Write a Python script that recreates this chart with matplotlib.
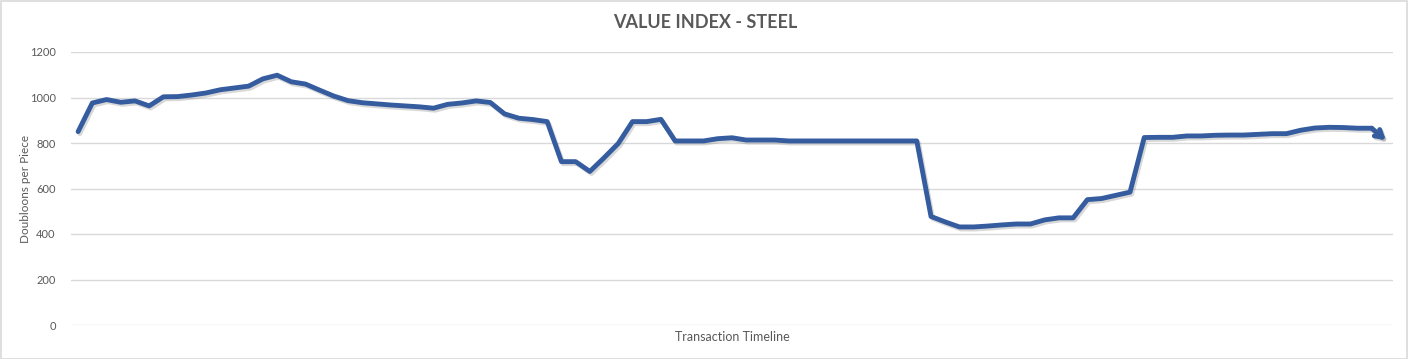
import numpy as np
import matplotlib.pyplot as plt
import matplotlib.patheffects as pe

# value per transaction
steel_value = [850, 976, 991, 979, 985, 963, 1003, 1004, 1011, 1020,
               1034, 1042, 1050, 1082, 1098, 1069, 1059, 1032, 1006, 986,
               977, 972, 967, 963, 959, 953, 970, 976, 985, 978,
               928, 909, 903, 894, 718, 718, 675, 735, 798, 894,
               894, 904, 809, 809, 809, 819, 823, 813, 813, 813,
               809, 809, 809, 809, 809, 809, 809, 809, 809, 809,
               477, 453, 431, 431, 435, 440, 444, 444, 462, 471,
               471, 551, 556, 570, 584, 824, 825, 825, 831, 831,
               834, 835, 835, 838, 841, 841, 856, 866, 869, 868,
               865, 865, 812]
txn = np.arange(len(steel_value))
y_ticks = [0, 200, 400, 600, 800, 1000, 1200]

title = "VALUE INDEX - STEEL"
x_label = "Transaction Timeline"
y_label = "Doubloons per Piece"

plt.rcParams['font.family'] = ['Lato', 'DejaVu Sans']
txt_col = '#595959'
line_col = '#355C9F'

fig = plt.figure(figsize=(14.08, 3.59), dpi=100)
ax = fig.add_axes([71/1408, 1 - 325/359, 1322/1408, 273/359])

shadow = [pe.SimpleLineShadow(offset=(1.2, -1.5), shadow_color='#808080', alpha=0.3),
          pe.Normal()]
ax.plot(txn[:-1], steel_value[:-1], color=line_col, lw=3.5,
        solid_joinstyle='round', solid_capstyle='round', path_effects=shadow, zorder=3)
ax.annotate('', xy=(txn[-1], steel_value[-1]), xytext=(txn[-2], steel_value[-2]),
            arrowprops=dict(arrowstyle='->,head_length=0.5,head_width=0.3', color=line_col,
                            lw=3.5, shrinkA=0, shrinkB=0, path_effects=shadow), zorder=3)

ax.set_xlim(-0.5, len(steel_value) - 0.5)
ax.set_ylim(0, 1200)
ax.set_yticks(y_ticks)
ax.set_xticks([])
ax.grid(axis='y', color='#D9D9D9', lw=1)
ax.set_axisbelow(True)
for s in ax.spines.values():
    s.set_visible(False)
ax.tick_params(axis='y', length=0, pad=11, labelsize=8, labelcolor=txt_col)

ax.set_xlabel(x_label, fontsize=9, color=txt_col, labelpad=4)
ax.set_ylabel(y_label, fontsize=8.5, color=txt_col)
ax.yaxis.set_label_coords((31 - 71) / 1322, 0.5)
fig.text(705/1408, 1 - 23/359, title, ha='center', va='center',
         fontsize=13, fontweight='bold', color=txt_col)

# light chart border
fig.patches.append(plt.Rectangle((0.0005, 0.001), 0.999, 0.997, transform=fig.transFigure,
                                 fill=False, edgecolor='#D9D9D9', lw=1.2))

fig.savefig('out.png', dpi=100)
